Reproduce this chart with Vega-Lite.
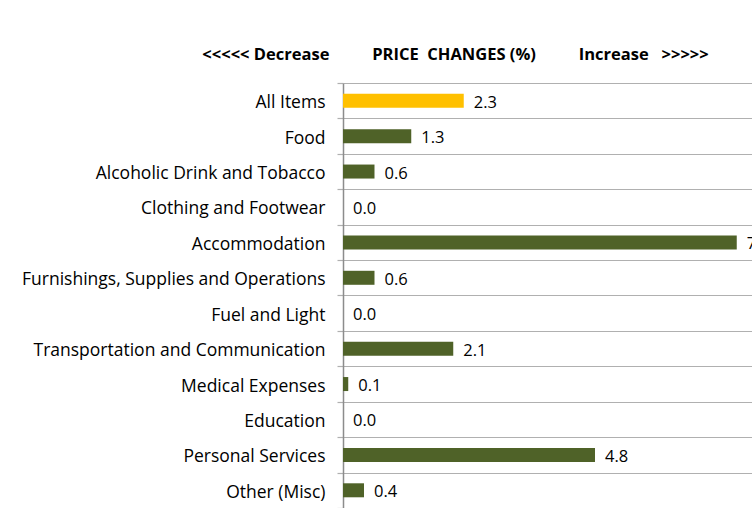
{
  "$schema": "https://vega.github.io/schema/vega-lite/v6.json",
  "autosize": "none",
  "width": 420,
  "height": 425,
  "padding": {"left": 343, "top": 83, "right": 0, "bottom": 0},
  "background": "white",
  "config": {"view": {"stroke": null}, "font": "Open Sans"},
  "data": {"values": [
    {"item": "All Items", "change": 2.3, "kind": "all"},
    {"item": "Food", "change": 1.3, "kind": "group"},
    {"item": "Alcoholic Drink and Tobacco", "change": 0.6, "kind": "group"},
    {"item": "Clothing and Footwear", "change": 0.0, "kind": "group"},
    {"item": "Accommodation", "change": 7.5, "kind": "group"},
    {"item": "Furnishings, Supplies and Operations", "change": 0.6, "kind": "group"},
    {"item": "Fuel and Light", "change": 0.0, "kind": "group"},
    {"item": "Transportation and Communication", "change": 2.1, "kind": "group"},
    {"item": "Medical Expenses", "change": 0.1, "kind": "group"},
    {"item": "Education", "change": 0.0, "kind": "group"},
    {"item": "Personal Services", "change": 4.8, "kind": "group"},
    {"item": "Other (Misc)", "change": 0.4, "kind": "group"}
  ]},
  "encoding": {
    "y": {
      "field": "item", "type": "nominal", "sort": null,
      "scale": {"paddingInner": 0, "paddingOuter": 0},
      "axis": {
        "title": null, "orient": "left", "grid": true, "gridColor": "#b0b0b0", "gridWidth": 1.2,
        "tickBand": "extent", "tickSize": 6, "tickColor": "#b0b0b0", "tickWidth": 1.2,
        "domainColor": "#8c8c8c", "domainWidth": 1.5,
        "labelFont": "Open Sans", "labelFontSize": 17.5, "labelColor": "#000000", "labelPadding": 12, "labelLimit": 0, "labelOffset": 2
      }
    },
    "x": {
      "field": "change", "type": "quantitative",
      "scale": {"domain": [0, 8], "nice": false},
      "axis": {
        "orient": "top", "labels": false, "ticks": false, "domain": false, "grid": false,
        "title": "<<<<< Decrease\u00a0\u00a0\u00a0\u00a0\u00a0\u00a0\u00a0\u00a0\u00a0\u00a0PRICE\u00a0\u00a0CHANGES (%)\u00a0\u00a0\u00a0\u00a0\u00a0\u00a0\u00a0\u00a0\u00a0\u00a0Increase\u00a0\u00a0\u00a0>>>>>",
        "titleFont": "Open Sans", "titleFontSize": 16.5, "titleFontWeight": "bold", "titleColor": "#000000",
        "titleX": 112, "titleY": -29, "titleAlign": "center", "titleBaseline": "middle"
      }
    }
  },
  "layer": [
    {
      "mark": {"type": "bar", "height": 14},
      "encoding": {
        "color": {
          "field": "kind", "type": "nominal",
          "scale": {"domain": ["all", "group"], "range": ["#FFC000", "#4F6228"]},
          "legend": null
        }
      }
    },
    {
      "mark": {"type": "text", "align": "left", "baseline": "middle", "dx": 10, "dy": 2, "fontSize": 16.5, "font": "Open Sans", "color": "#000000"},
      "encoding": {
        "text": {"field": "change", "type": "quantitative", "format": ".1f"}
      }
    }
  ]
}
